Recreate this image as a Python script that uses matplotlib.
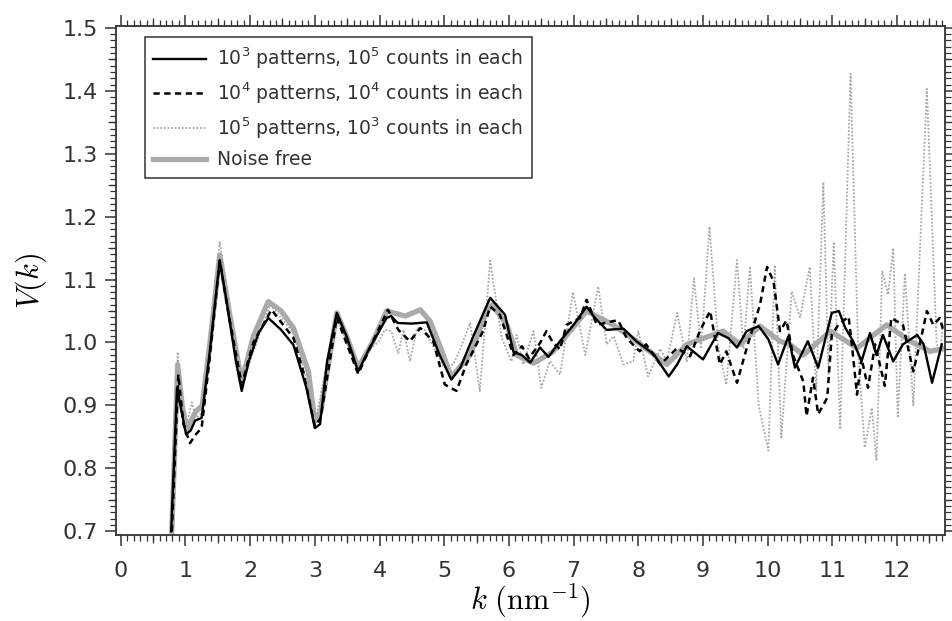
import numpy as np
import matplotlib
matplotlib.use('Agg')
import matplotlib.pyplot as plt
from matplotlib.ticker import MultipleLocator

plt.rcParams['font.family'] = 'DejaVu Sans'

# k (nm^-1), V(k)
p1e3 = [(0.78, 0.70), (0.87, 0.928), (0.94, 0.89), (1.01, 0.854), (1.08, 0.86), (1.15, 0.876),
        (1.25, 0.88), (1.37, 0.98), (1.53, 1.131), (1.645, 1.06), (1.78, 0.97), (1.87, 0.923),
        (1.98, 0.97), (2.13, 1.015), (2.28, 1.039), (2.48, 1.02), (2.67, 0.996), (2.87, 0.928),
        (3.0, 0.864), (3.08, 0.87), (3.19, 0.97), (3.34, 1.047), (3.49, 1.01), (3.67, 0.954),
        (3.84, 0.99), (4.11, 1.039), (4.18, 1.042), (4.28, 1.031), (4.50, 1.03), (4.73, 1.032),
        (4.93, 0.98), (5.11, 0.941), (5.25, 0.96), (5.45, 1.01), (5.71, 1.071), (5.94, 1.044),
        (6.07, 0.985), (6.20, 0.98), (6.33, 0.968), (6.48, 0.992), (6.61, 0.977), (6.79, 1.002),
        (7.0, 1.028), (7.20, 1.057), (7.33, 1.039), (7.51, 1.02), (7.77, 1.022), (7.97, 1.002),
        (8.24, 0.981), (8.47, 0.946), (8.60, 0.965), (8.75, 0.994), (9.0, 0.973), (9.23, 1.015),
        (9.39, 1.007), (9.525, 0.992), (9.675, 1.018), (9.86, 1.026), (10.01, 1.005), (10.16, 0.965),
        (10.32, 1.01), (10.42, 0.96), (10.62, 1.002), (10.78, 0.96), (10.99, 1.047), (11.10, 1.05),
        (11.20, 1.023), (11.32, 1.002), (11.45, 0.97), (11.58, 1.015), (11.68, 0.98), (11.78, 1.012),
        (11.94, 0.97), (12.09, 0.997), (12.31, 1.012), (12.41, 0.997), (12.54, 0.936), (12.69, 0.997)]

p1e4 = [(0.79, 0.70), (0.89, 0.949), (0.97, 0.87), (1.07, 0.84), (1.17, 0.855), (1.25, 0.864),
        (1.37, 0.97), (1.53, 1.13), (1.675, 1.04), (1.87, 0.933), (2.05, 1.0), (2.33, 1.052),
        (2.67, 1.007), (2.82, 0.954), (3.0, 0.867), (3.09, 0.88), (3.34, 1.04), (3.44, 1.012),
        (3.67, 0.95), (3.89, 1.0), (4.13, 1.052), (4.29, 1.02), (4.47, 1.002), (4.63, 1.023),
        (4.83, 1.002), (5.01, 0.933), (5.19, 0.923), (5.34, 0.965), (5.60, 1.018), (5.71, 1.057),
        (5.86, 1.044), (6.07, 0.98), (6.20, 0.994), (6.31, 0.975), (6.48, 0.999), (6.58, 1.018),
        (6.68, 1.0), (6.79, 0.989), (6.89, 1.028), (7.10, 1.039), (7.20, 1.068), (7.36, 1.028),
        (7.61, 1.034), (7.69, 1.035), (7.82, 1.007), (8.02, 0.986), (8.12, 0.997), (8.34, 0.965),
        (8.60, 0.991), (8.80, 0.978), (8.95, 1.018), (9.11, 1.05), (9.26, 0.965), (9.36, 0.986),
        (9.525, 0.936), (9.675, 0.991), (9.88, 1.06), (9.99, 1.12), (10.09, 1.097), (10.19, 1.018),
        (10.29, 1.035), (10.39, 0.98), (10.55, 0.938), (10.60, 0.883), (10.70, 0.944), (10.78, 0.886),
        (10.92, 0.912), (10.99, 1.012), (11.09, 1.028), (11.25, 1.041), (11.30, 0.997), (11.38, 0.917),
        (11.45, 0.975), (11.55, 0.928), (11.66, 0.997), (11.81, 0.931), (11.91, 1.039), (12.09, 1.028),
        (12.25, 0.954), (12.36, 1.002), (12.46, 1.05), (12.56, 1.028), (12.66, 1.039), (12.71, 1.02)]

p1e5 = [(0.79, 0.70), (0.88, 0.985), (0.95, 0.90), (1.02, 0.87), (1.10, 0.905), (1.17, 0.88),
        (1.27, 0.89), (1.53, 1.16), (1.87, 0.93), (2.03, 0.98), (2.31, 1.06), (2.67, 1.015),
        (2.88, 0.94), (3.0, 0.87), (3.34, 1.045), (3.49, 1.0), (3.67, 0.955), (3.84, 0.99),
        (3.98, 1.0), (4.08, 1.02), (4.18, 1.018), (4.29, 0.983), (4.37, 1.02), (4.47, 0.97),
        (4.58, 1.023), (4.70, 1.02), (4.85, 0.99), (5.0, 0.96), (5.14, 0.965), (5.25, 0.99),
        (5.40, 1.031), (5.55, 0.923), (5.71, 1.13), (5.89, 1.007), (6.04, 0.97), (6.12, 1.012),
        (6.22, 0.965), (6.38, 1.018), (6.50, 0.928), (6.63, 0.97), (6.79, 0.949), (6.99, 1.08),
        (7.18, 0.98), (7.38, 1.089), (7.51, 0.997), (7.62, 1.01), (7.77, 0.965), (7.92, 0.97),
        (8.0, 1.018), (8.15, 0.946), (8.34, 0.99), (8.44, 0.97), (8.60, 1.047), (8.75, 0.97),
        (8.86, 1.102), (8.97, 0.99), (9.10, 1.184), (9.24, 0.99), (9.36, 0.933), (9.525, 1.131),
        (9.625, 0.99), (9.725, 1.121), (9.86, 0.90), (10.01, 0.828), (10.11, 1.123), (10.21, 0.849),
        (10.37, 1.081), (10.50, 1.04), (10.65, 1.12), (10.75, 0.923), (10.86, 1.255), (10.94, 0.95),
        (11.02, 1.16), (11.12, 0.862), (11.28, 1.427), (11.40, 0.98), (11.50, 0.833), (11.61, 0.896),
        (11.68, 0.812), (11.77, 1.113), (11.86, 1.076), (11.94, 1.15), (12.01, 0.88), (12.12, 1.11),
        (12.25, 0.90), (12.46, 1.403), (12.61, 1.0), (12.66, 0.98), (12.71, 1.03)]

p_free = [(0.79, 0.70), (0.88, 0.965), (0.95, 0.9), (1.02, 0.862), (1.16, 0.89), (1.26, 0.9),
          (1.38, 1.0), (1.53, 1.139), (1.675, 1.05), (1.87, 0.938), (2.05, 1.01), (2.28, 1.065),
          (2.48, 1.05), (2.67, 1.023), (2.90, 0.954), (3.0, 0.875), (3.09, 0.89), (3.34, 1.047),
          (3.49, 1.01), (3.67, 0.96), (3.89, 1.0), (4.11, 1.05), (4.40, 1.042), (4.63, 1.052),
          (4.78, 1.034), (4.95, 0.99), (5.11, 0.945), (5.40, 0.98), (5.66, 1.05), (5.74, 1.06),
          (5.97, 1.028), (6.12, 0.98), (6.38, 0.967), (6.68, 0.985), (7.0, 1.025), (7.20, 1.05),
          (7.61, 1.028), (7.97, 1.002), (8.44, 0.965), (8.75, 0.997), (9.31, 1.018), (9.575, 0.997),
          (9.88, 1.026), (10.19, 1.002), (10.34, 0.997), (10.55, 0.98), (10.97, 1.018), (11.38, 0.991),
          (11.84, 1.028), (12.20, 1.002), (12.51, 0.986), (12.71, 0.99)]

labels = [r'$10^3$ patterns, $10^5$ counts in each',
          r'$10^4$ patterns, $10^4$ counts in each',
          r'$10^5$ patterns, $10^3$ counts in each',
          'Noise free']

fig = plt.figure(figsize=(9.52, 6.21), dpi=100)
ax = fig.add_axes([116 / 952, 1 - 535 / 621, 829 / 952, 509 / 621])

k, v = np.array(p_free).T
l4, = ax.plot(k, v, color='#aaaaaa', lw=3.8, zorder=1)
k, v = np.array(p1e5).T
l3, = ax.plot(k, v, color='#a8a8a8', lw=1.3, ls=(0, (1, 1)), zorder=2)
k, v = np.array(p1e4).T
l2, = ax.plot(k, v, color='black', lw=1.8, ls=(0, (2.5, 1.8)), zorder=3)
k, v = np.array(p1e3).T
l1, = ax.plot(k, v, color='black', lw=1.7, zorder=4)

ax.set_xlim(-0.073, 12.74)
ax.set_ylim(0.694, 1.503)
ax.xaxis.set_major_locator(MultipleLocator(1))
ax.xaxis.set_minor_locator(MultipleLocator(0.1))
ax.yaxis.set_major_locator(MultipleLocator(0.1))
ax.yaxis.set_minor_locator(MultipleLocator(0.01))
ax.tick_params(which='both', direction='out', top=True, right=True, color='#333333',
               labelcolor='#333333', labelsize=16)
ax.tick_params(which='major', length=8, width=1.1)
ax.tick_params(which='minor', length=4, width=0.9)
ax.tick_params(axis='x', pad=11)
ax.tick_params(axis='y', pad=5)
for s in ax.spines.values():
    s.set_color('#333333')
    s.set_linewidth(1.3)

# half-way ticks, a bit longer than the minor ones
for side in ['bottom', 'top']:
    sec = ax.secondary_xaxis(side)
    sec.set_xticks(np.arange(0.5, 12.6, 1.0))
    sec.set_xticklabels([])
    sec.tick_params(direction='out', length=6, width=0.9, color='#333333')
    sec.spines[side].set_visible(False)
for side in ['left', 'right']:
    sec = ax.secondary_yaxis(side)
    sec.set_yticks(np.arange(0.75, 1.5, 0.1))
    sec.set_yticklabels([])
    sec.tick_params(direction='out', length=6, width=0.9, color='#333333')
    sec.spines[side].set_visible(False)

ax.set_xlabel(r'$k\ (\mathrm{nm}^{-1})$', fontsize=22, math_fontfamily='cm', labelpad=0)
ax.set_ylabel(r'$V(k)$', fontsize=22, math_fontfamily='cm', labelpad=10)

leg = ax.legend([l1, l2, l3, l4], labels, loc='upper left', bbox_to_anchor=(0.035, 0.978),
                borderaxespad=0, fancybox=False, edgecolor='#333333', framealpha=1,
                prop={'size': 13.5, 'math_fontfamily': 'dejavusans'}, handlelength=2.8,
                handletextpad=0.6, labelspacing=0.5, borderpad=0.45)
leg.get_frame().set_linewidth(1.1)
for t in leg.get_texts():
    t.set_color('#333333')

fig.savefig('out.png', dpi=100)
